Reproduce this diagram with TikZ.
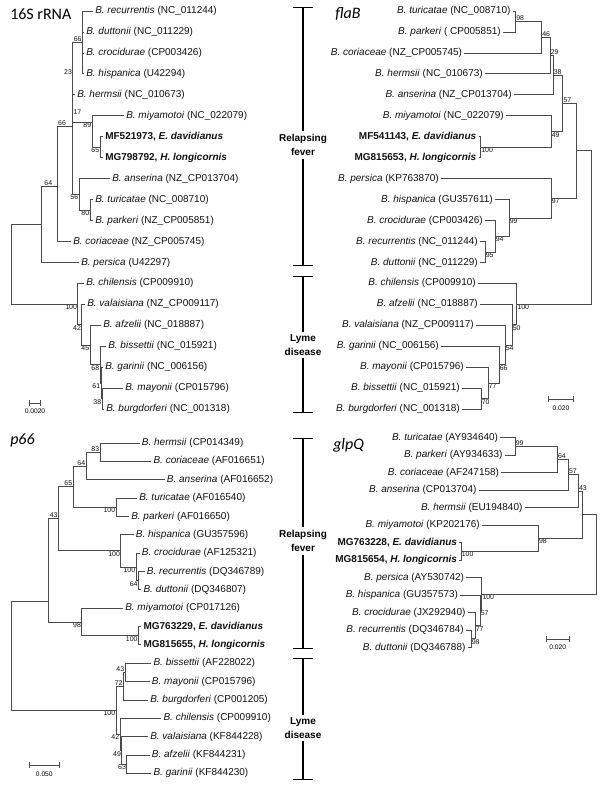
\documentclass[tikz,border=0pt]{standalone}
\usepackage{fontspec}
\setmainfont{Liberation Sans}
\newfontfamily\headfont{Carlito}
\usepackage{tikz}
\usetikzlibrary{arrows.meta, positioning}
\definecolor{treeline}{HTML}{4A4A4A}
\definecolor{treeink}{HTML}{111111}

\newcommand{\bsp}[2]{\textit{B. #1} (#2)}
\newcommand{\seqlab}[2]{\textbf{#1, \textit{#2}}}

\begin{document}
\begin{tikzpicture}[x=0.75pt, y=-0.75pt,
    leaf/.style={anchor=west, inner xsep=1.5pt, inner ysep=0pt, text height=5.5pt, text depth=1.6pt, font=\fontsize{7.5}{9}\selectfont, text=treeink},
    leafr/.style={leaf, anchor=east},
    br/.style={draw=treeline, line width=0.6pt},
    boot/.style={inner sep=0.4pt, font=\fontsize{5.2}{6}\selectfont, text=treeink},
    head/.style={anchor=west, inner sep=0pt, font=\headfont\fontsize{12}{14}\selectfont},
    grp/.style={align=center, inner sep=2pt, font=\bfseries\fontsize{7.5}{10.5}\selectfont},
    brk/.style={line width=1pt, {Bar[width=15pt]}-},
    sbar/.style={draw=treeline, line width=0.6pt, {Bar[width=4.5pt]}-{Bar[width=4.5pt]}},
    scl/.style={inner sep=0.5pt, font=\fontsize{5}{6}\selectfont}
  ]
  \useasboundingbox (0,0) rectangle (600,786);
  \fill[white] (0,0) rectangle (600,786);

  % 16S rRNA
  \node[head] (h16) at (10,14) {16S rRNA};
  \node[leaf] (s16rec) at (93,11) {\bsp{recurrentis}{NC\_011244}};
  \node[leaf] (s16dut) at (84,31.95) {\bsp{duttonii}{NC\_011229}};
  \node[leaf] (s16cro) at (84,52.9) {\bsp{crocidurae}{CP003426}};
  \node[leaf] (s16his) at (84,73.85) {\bsp{hispanica}{U42294}};
  \node[leaf] (s16her) at (75,94.8) {\bsp{hermsii}{NC\_010673}};
  \node[leaf] (s16miy) at (124,115.75) {\bsp{miyamotoi}{NC\_022079}};
  \node[leaf] (s16edav) at (103,136.7) {\seqlab{MF521973}{E. davidianus}};
  \node[leaf] (s16hlon) at (103,157.65) {\seqlab{MG798792}{H. longicornis}};
  \node[leaf] (s16ans) at (110,178.6) {\bsp{anserina}{NZ\_CP013704}};
  \node[leaf] (s16tur) at (93,199.55) {\bsp{turicatae}{NC\_008710}};
  \node[leaf] (s16par) at (93,220.5) {\bsp{parkeri}{NZ\_CP005851}};
  \node[leaf] (s16cor) at (71,241.45) {\bsp{coriaceae}{NZ\_CP005745}};
  \node[leaf] (s16per) at (79,262.4) {\bsp{persica}{U42297}};
  \node[leaf] (s16chi) at (84,283.35) {\bsp{chilensis}{CP009910}};
  \node[leaf] (s16val) at (85,304.3) {\bsp{valaisiana}{NZ\_CP009117}};
  \node[leaf] (s16afz) at (101,325.25) {\bsp{afzelii}{NC\_018887}};
  \node[leaf] (s16bis) at (106,346.2) {\bsp{bissettii}{NC\_015921}};
  \node[leaf] (s16gar) at (103,367.15) {\bsp{garinii}{NC\_006156}};
  \node[leaf] (s16may) at (123,388.1) {\bsp{mayonii}{CP015796}};
  \node[leaf] (s16bur) at (104,409.05) {\bsp{burgdorferi}{NC\_001318}};

  \coordinate[label={[boot]above left:66}] (s16n66a) at (82.3,42.4);
  \coordinate[label={[boot]below left:23}] (s16n23) at (72.7,68.6);
  \coordinate[label={[boot]below right:17}] (s16n17) at (72.7,108.5);
  \coordinate[label={[boot,xshift=-4.5pt]above left:66}] (s16n66b) at (72.7,126);
  \coordinate[label={[boot]below left:89}] (s16n89) at (92,122);
  \coordinate[label={[boot]below left:65}] (s16n65) at (100,147.2);
  \coordinate[label={[boot]below left:56}] (s16n56) at (79,194.3);
  \coordinate[label={[boot]below left:80}] (s16n80) at (90,210);
  \coordinate[label={[boot,xshift=-3pt]above left:64}] (s16n64) at (57,186);
  \coordinate (s16rf) at (41,224.2);
  \coordinate[label={[boot]below left:100}] (s16n100) at (77.7,304);
  \coordinate[label={[boot]below left:42}] (s16n42) at (81.7,324.6);
  \coordinate[label={[boot]below left:45}] (s16n45) at (90,344.9);
  \coordinate[label={[boot]below left:68}] (s16n68) at (100,364.5);
  \coordinate[label={[boot]below left:61}] (s16n61) at (101,382.9);
  \coordinate[label={[boot]below left:38}] (s16n38) at (102,398.6);
  \coordinate (s16root) at (11,264.1);

  \foreach \p/\c in {n66a/rec.west, n66a/dut.west, n66a/cro.west, n66a/his.west,
      n66b/n66a, n66b/her.west, n66b/n89, n66b/n56, n89/miy.west, n89/n65,
      n65/edav.west, n65/hlon.west, n56/ans.west, n56/n80, n80/tur.west, n80/par.west,
      n64/n66b, n64/cor.west, rf/n64, rf/per.west, root/rf, root/n100,
      n100/chi.west, n100/n42, n42/val.west, n42/n45, n45/afz.west, n45/n68,
      n68/bis.west, n68/n61, n61/gar.west, n61/n38, n38/may.west, n38/bur.west}
    \draw[br] (s16\p) |- (s16\c);
  \draw[sbar] (29,403) coordinate (s16sa) -- (41,403) coordinate (s16sb)
    node[scl, midway, below=3.5pt] (s16scl) {0.0020};

  % flaB
  \node[head] (hfla) at (335,14) {\itshape flaB};
  \node[leafr] (flatur) at (512.7,11) {\bsp{turicatae}{NC\_008710}};
  \node[leafr] (flapar) at (503,31.95) {\bsp{parkeri}{ CP005851}};
  \node[leafr] (flacor) at (464.3,52.9) {\bsp{coriaceae}{NZ\_CP005745}};
  \node[leafr] (flaher) at (485,73.85) {\bsp{hermsii}{NC\_010673}};
  \node[leafr] (flaans) at (514,94.8) {\bsp{anserina}{NZ\_CP013704}};
  \node[leafr] (flamiy) at (506,115.75) {\bsp{miyamotoi}{NC\_022079}};
  \node[leafr] (flaedav) at (478.5,136.7) {\seqlab{MF541143}{E. davidianus}};
  \node[leafr] (flahlon) at (478.5,157.65) {\seqlab{MG815653}{H. longicornis}};
  \node[leafr] (flaper) at (441,178.6) {\bsp{persica}{KP763870}};
  \node[leafr] (flahis) at (495,199.55) {\bsp{hispanica}{GU357611}};
  \node[leafr] (flacro) at (485,220.5) {\bsp{crocidurae}{CP003426}};
  \node[leafr] (flarec) at (480,241.45) {\bsp{recurrentis}{NC\_011244}};
  \node[leafr] (fladut) at (480,262.4) {\bsp{duttonii}{NC\_011229}};
  \node[leafr] (flachi) at (478,283.35) {\bsp{chilensis}{CP009910}};
  \node[leafr] (flaafz) at (480,304.3) {\bsp{afzelii}{NC\_018887}};
  \node[leafr] (flaval) at (476,325.25) {\bsp{valaisiana}{NZ\_CP009117}};
  \node[leafr] (flagar) at (441,346.2) {\bsp{garinii}{NC\_006156}};
  \node[leafr] (flamay) at (466,367.15) {\bsp{mayonii}{CP015796}};
  \node[leafr] (flabis) at (462,388.1) {\bsp{bissettii}{NC\_015921}};
  \node[leafr] (flabur) at (462,409.05) {\bsp{burgdorferi}{NC\_001318}};

  \coordinate[label={[boot]above right:98}] (flan98) at (515.5,21.5);
  \coordinate[label={[boot]above right:46}] (flan46) at (541.5,37.2);
  \coordinate[label={[boot]above right:29}] (flan29) at (550,55.5);
  \coordinate[label={[boot]above right:38}] (flan38) at (553,75.15);
  \coordinate[label={[boot]below right:100}] (flan100a) at (480.5,147.2);
  \coordinate[label={[boot]below right:49}] (flan49) at (551,131.5);
  \coordinate[label={[boot]above right:57}] (flan57) at (562.7,103.3);
  \coordinate[label={[boot]below right:95}] (flan95) at (485,251.9);
  \coordinate[label={[boot]below right:94}] (flan94) at (495,236.2);
  \coordinate[label={[boot]below right:99}] (flan99) at (509,217.9);
  \coordinate[label={[boot]below right:97}] (flan97) at (551,198.25);
  \coordinate (flarf) at (576,150.8);
  \coordinate[label={[boot]below right:70}] (flan70) at (481,398.6);
  \coordinate[label={[boot]below right:77}] (flan77) at (488,382.9);
  \coordinate[label={[boot]below right:66}] (flan66) at (499,364.5);
  \coordinate[label={[boot]below right:54}] (flan54) at (505,344.9);
  \coordinate[label={[boot]below right:50}] (flan50) at (512,324.6);
  \coordinate[label={[boot]below right:100}] (flan100b) at (516.7,304);
  \coordinate (flaroot) at (591.7,227.4);

  \foreach \p/\c in {n98/tur.east, n98/par.east, n46/n98, n46/cor.east,
      n29/n46, n29/her.east, n38/n29, n38/ans.east, n100a/edav.east, n100a/hlon.east,
      n49/miy.east, n49/n100a, n57/n38, n57/n49, n95/rec.east, n95/dut.east,
      n94/cro.east, n94/n95, n99/his.east, n99/n94, n97/per.east, n97/n99,
      rf/n57, rf/n97, root/rf, root/n100b, n100b/chi.east, n100b/n50,
      n50/afz.east, n50/n54, n54/val.east, n54/n66, n66/gar.east, n66/n77,
      n77/may.east, n77/n70, n70/bis.east, n70/bur.east}
    \draw[br] (fla\p) |- (fla\c);
  \draw[sbar] (548,399) coordinate (flasa) -- (574,399) coordinate (flasb)
    node[scl, midway, below=4pt] (flascl) {0.020};

  % p66
  \node[head] (hp66) at (10,440) {\itshape p66};
  \node[leaf] (p66her) at (139.7,443) {\bsp{hermsii}{CP014349}};
  \node[leaf] (p66cor) at (151.3,461.35) {\bsp{coriaceae}{AF016651}};
  \node[leaf] (p66ans) at (164.7,479.7) {\bsp{anserina}{AF016652}};
  \node[leaf] (p66tur) at (137,498.05) {\bsp{turicatae}{AF016540}};
  \node[leaf] (p66par) at (129,516.4) {\bsp{parkeri}{AF016650}};
  \node[leaf] (p66his) at (133.7,534.75) {\bsp{hispanica}{GU357596}};
  \node[leaf] (p66cro) at (139.7,553.1) {\bsp{crocidurae}{AF125321}};
  \node[leaf] (p66rec) at (144.7,571.45) {\bsp{recurrentis}{DQ346789}};
  \node[leaf] (p66dut) at (141.3,589.8) {\bsp{duttonii}{DQ346807}};
  \node[leaf] (p66miy) at (123,608.15) {\bsp{miyamotoi}{CP017126}};
  \node[leaf] (p66edav) at (141.3,626.5) {\seqlab{MG763229}{E. davidianus}};
  \node[leaf] (p66hlon) at (141.3,644.85) {\seqlab{MG815655}{H. longicornis}};
  \node[leaf] (p66bis) at (151.3,663.2) {\bsp{bissettii}{AF228022}};
  \node[leaf] (p66may) at (149.7,681.55) {\bsp{mayonii}{CP015796}};
  \node[leaf] (p66bur) at (148,699.9) {\bsp{burgdorferi}{CP001205}};
  \node[leaf] (p66chi) at (161.3,718.25) {\bsp{chilensis}{CP009910}};
  \node[leaf] (p66val) at (148,736.6) {\bsp{valaisiana}{KF844228}};
  \node[leaf] (p66afz) at (149.7,754.95) {\bsp{afzelii}{KF844231}};
  \node[leaf] (p66gar) at (151.3,773.3) {\bsp{garinii}{KF844230}};

  \coordinate[label={[boot]above left:83}] (p66n83) at (100,452.2);
  \coordinate[label={[boot]above left:64}] (p66n64a) at (86,466);
  \coordinate[label={[boot]below left:100}] (p66n100a) at (116,507.2);
  \coordinate[label={[boot]above left:65}] (p66n65) at (73,486.6);
  \coordinate[label={[boot]below left:64}] (p66n64b) at (138.3,580.6);
  \coordinate[label={[boot]below left:100}] (p66n100c) at (136,566.9);
  \coordinate[label={[boot]below left:100}] (p66n100b) at (120.7,550.8);
  \coordinate[label={[boot]above left:43}] (p66n43a) at (58.3,518.7);
  \coordinate[label={[boot]below left:100}] (p66n100d) at (138.3,635.7);
  \coordinate[label={[boot]below left:98}] (p66n98) at (81.7,621.9);
  \coordinate (p66rf) at (48.3,601);
  \coordinate[label={[boot]above left:43}] (p66n43b) at (125,672.4);
  \coordinate[label={[boot]above left:72}] (p66n72) at (123.3,686.15);
  \coordinate[label={[boot]below left:63}] (p66n63) at (126.7,764.1);
  \coordinate[label={[boot]below left:49}] (p66n49) at (121.7,750.35);
  \coordinate[label={[boot]below left:42}] (p66n42) at (120,734.3);
  \coordinate[label={[boot]below left:100}] (p66n100e) at (116,710.2);
  \coordinate (p66root) at (11,655.6);

  \foreach \p/\c in {n83/her.west, n83/cor.west, n64a/n83, n64a/ans.west,
      n100a/tur.west, n100a/par.west, n65/n64a, n65/n100a,
      n64b/rec.west, n64b/dut.west, n100c/cro.west, n100c/n64b,
      n100b/his.west, n100b/n100c, n43a/n65, n43a/n100b,
      n100d/edav.west, n100d/hlon.west, n98/miy.west, n98/n100d,
      rf/n43a, rf/n98, root/rf, root/n100e, n100e/n72, n100e/n42,
      n72/n43b, n72/bur.west, n43b/bis.west, n43b/may.west,
      n42/chi.west, n42/n49, n49/val.west, n49/n63, n63/afz.west, n63/gar.west}
    \draw[br] (p66\p) |- (p66\c);
  \draw[sbar] (29.3,765) coordinate (p66sa) -- (59.3,765) coordinate (p66sb)
    node[scl, midway, below=4pt] (p66scl) {0.050};

  % glpQ
  \node[head] (hglp) at (333,445) {\itshape glpQ};
  \node[leafr] (glptur) at (500.3,437.5) {\bsp{turicatae}{AY934640}};
  \node[leafr] (glppar) at (504.7,455) {\bsp{parkeri}{AY934633}};
  \node[leafr] (glpcor) at (501.3,472.5) {\bsp{coriaceae}{AF247158}};
  \node[leafr] (glpans) at (478.7,490) {\bsp{anserina}{CP013704}};
  \node[leafr] (glpher) at (524.7,507.5) {\bsp{hermsii}{EU194840}};
  \node[leafr] (glpmiy) at (482,525) {\bsp{miyamotoi}{KP202176}};
  \node[leafr] (glpedav) at (459.3,542.5) {\seqlab{MG763228}{E. davidianus}};
  \node[leafr] (glphlon) at (459.3,560) {\seqlab{MG815654}{H. longicornis}};
  \node[leafr] (glpper) at (466.3,577.5) {\bsp{persica}{AY530742}};
  \node[leafr] (glphis) at (460.3,595) {\bsp{hispanica}{GU357573}};
  \node[leafr] (glpcro) at (467.7,612.5) {\bsp{crocidurae}{JX292940}};
  \node[leafr] (glprec) at (466,630) {\bsp{recurrentis}{DQ346784}};
  \node[leafr] (glpdut) at (467.7,647.5) {\bsp{duttonii}{DQ346788}};

  \coordinate[label={[boot]above right:99}] (glpn99) at (515,446.25);
  \coordinate[label={[boot]above right:64}] (glpn64) at (557.3,459.4);
  \coordinate[label={[boot]above right:57}] (glpn57a) at (568.3,474.7);
  \coordinate[label={[boot]above right:43}] (glpn43) at (578.3,491.1);
  \coordinate[label={[boot]below right:100}] (glpn100a) at (461,551.25);
  \coordinate[label={[boot]below right:98}] (glpn98a) at (538.3,538.1);
  \coordinate (glprf) at (582.7,514.6);
  \coordinate[label={[boot]below right:98}] (glpn98b) at (471,638.75);
  \coordinate[label={[boot]below right:77}] (glpn77) at (475,625.6);
  \coordinate[label={[boot]below right:57}] (glpn57b) at (480,610.3);
  \coordinate[label={[boot]below right:100}] (glpn100b) at (481.7,593.9);
  \coordinate (glproot) at (596,554.25);

  \foreach \p/\c in {n99/tur.east, n99/par.east, n64/n99, n64/cor.east,
      n57a/n64, n57a/ans.east, n43/n57a, n43/her.east,
      n100a/edav.east, n100a/hlon.east, n98a/miy.east, n98a/n100a,
      rf/n43, rf/n98a, root/rf, root/n100b,
      n100b/per.east, n100b/n57b, n57b/his.east, n57b/n77,
      n77/cro.east, n77/n98b, n98b/rec.east, n98b/dut.east}
    \draw[br] (glp\p) |- (glp\c);
  \draw[sbar] (546,639) coordinate (glpsa) -- (569.3,639) coordinate (glpsb)
    node[scl, midway, below=3.5pt] (glpscl) {0.020};

  % group brackets
  \coordinate (rf1t) at (303,7);
  \coordinate (rf1b) at (303,266);
  \node[grp] (rf1) at (303,145) {Relapsing\\fever};
  \draw[brk] (rf1t) -- (rf1.north);
  \draw[brk] (rf1b) -- (rf1.south);
  \coordinate (ld1t) at (303,276);
  \coordinate (ld1b) at (303,413);
  \node[grp] (ld1) at (303,345) {Lyme\\disease};
  \draw[brk] (ld1t) -- (ld1.north);
  \draw[brk] (ld1b) -- (ld1.south);
  \coordinate (rf2t) at (303,438);
  \coordinate (rf2b) at (303,649);
  \node[grp] (rf2) at (303,541) {Relapsing\\fever};
  \draw[brk] (rf2t) -- (rf2.north);
  \draw[brk] (rf2b) -- (rf2.south);
  \coordinate (ld2t) at (303,658);
  \coordinate (ld2b) at (303,780);
  \node[grp] (ld2) at (303,728) {Lyme\\disease};
  \draw[brk] (ld2t) -- (ld2.north);
  \draw[brk] (ld2b) -- (ld2.south);
\end{tikzpicture}
\end{document}
